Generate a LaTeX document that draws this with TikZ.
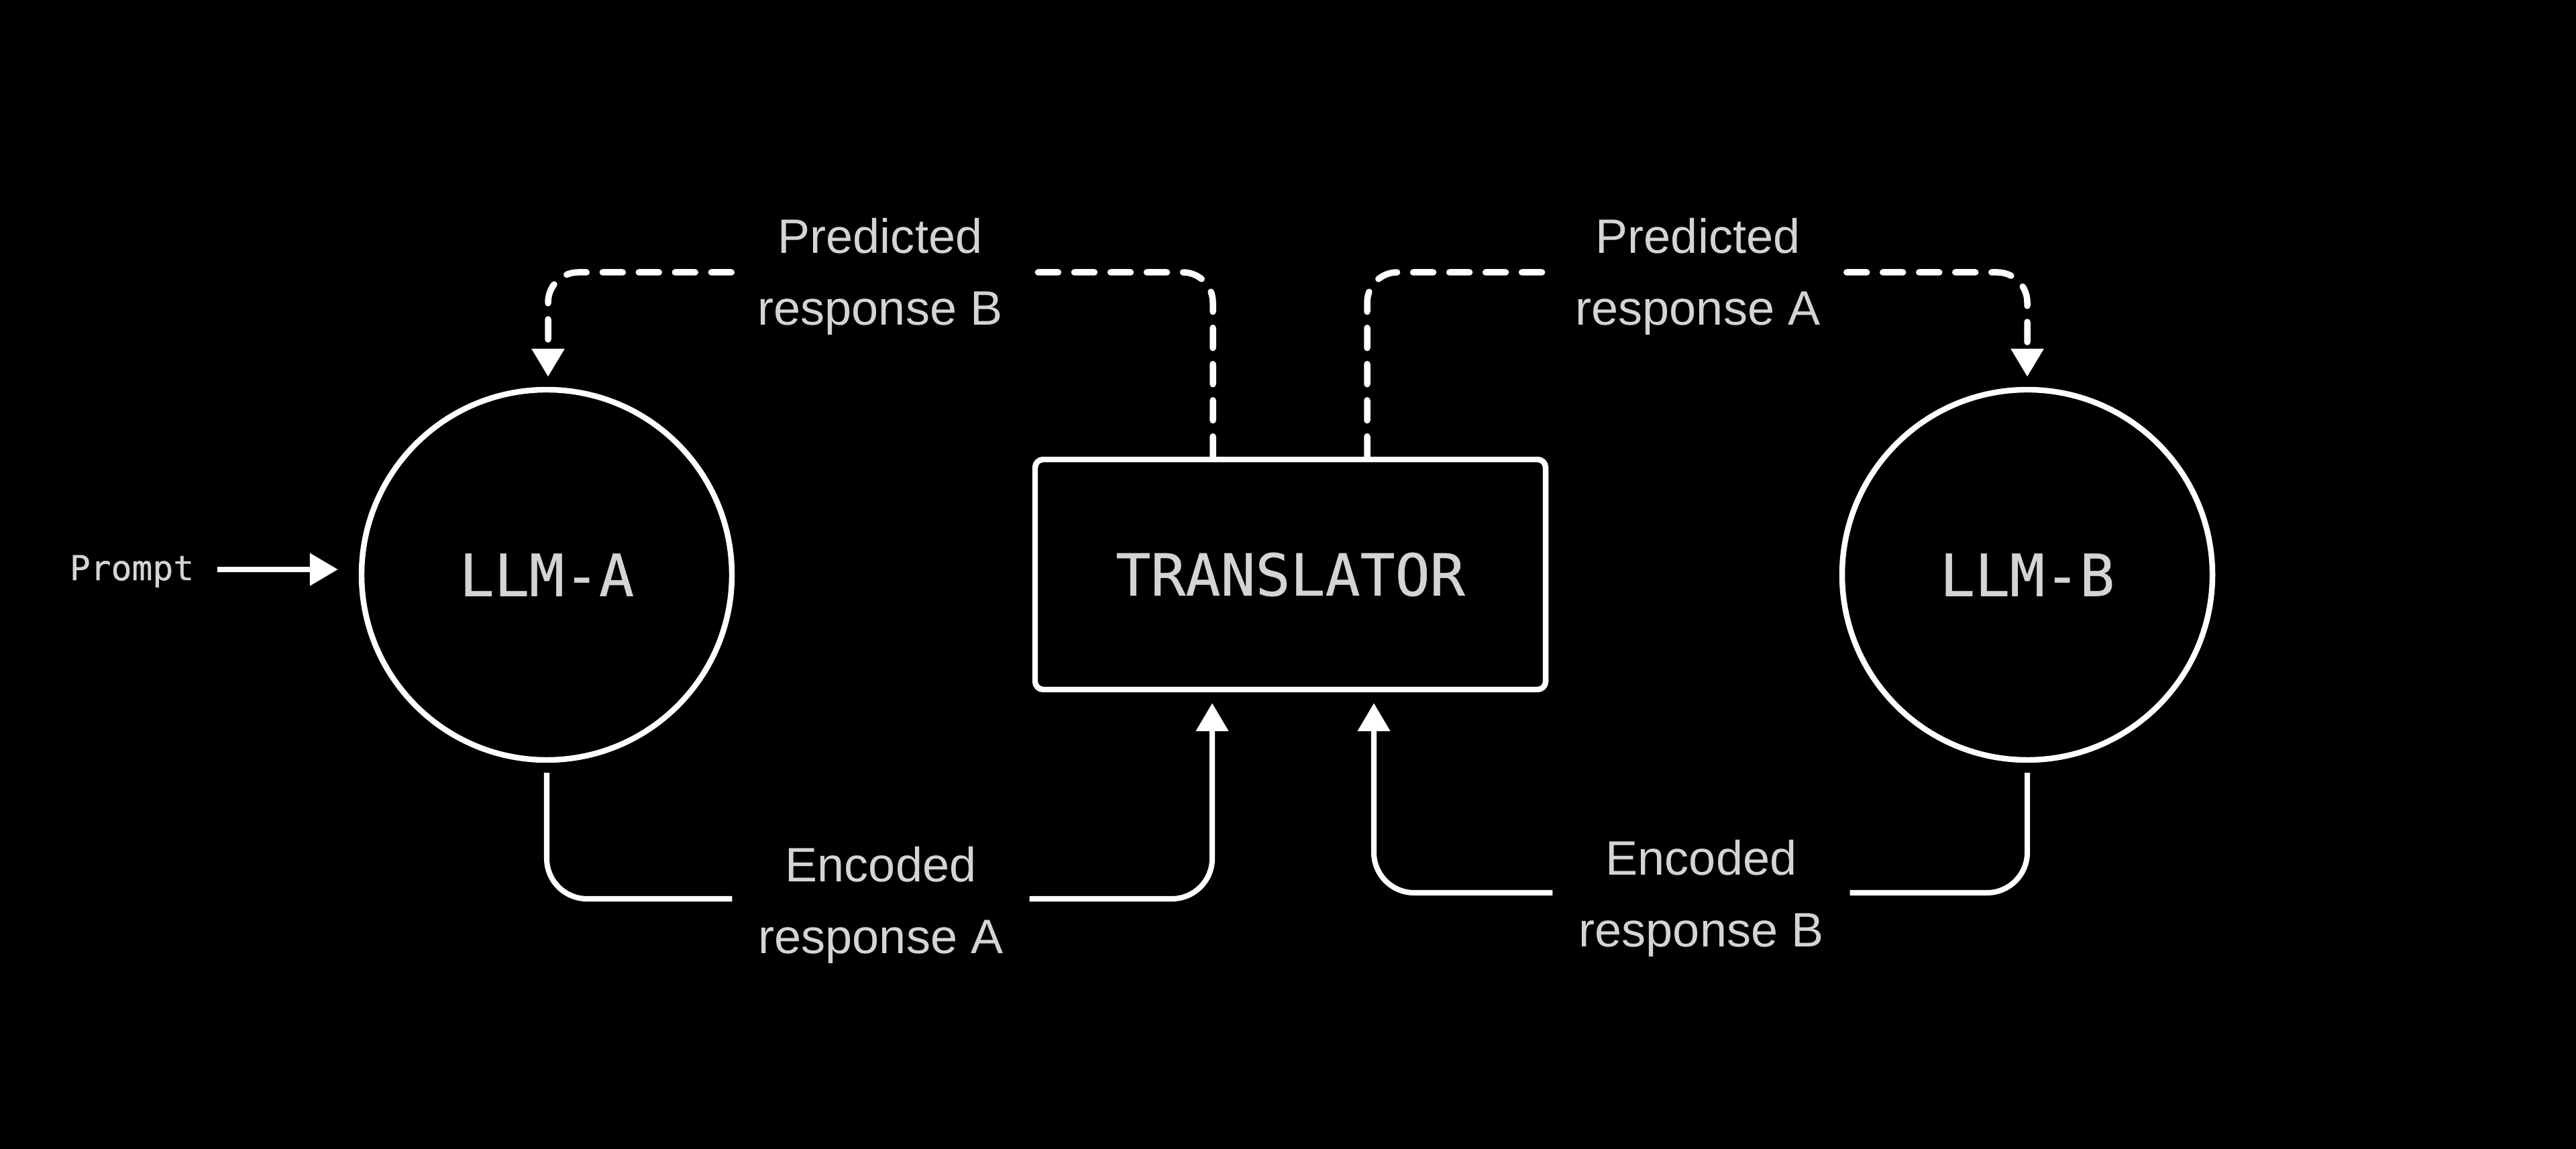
\documentclass[tikz,border=0pt]{standalone}
\usepackage{fontspec}
\setmainfont{Liberation Sans}
\newfontfamily\monofont[FakeBold=0.6]{DejaVu Sans Mono}
\usetikzlibrary{arrows.meta}
\definecolor{txt}{RGB}{212,212,212}
\begin{document}
\begin{tikzpicture}[
  every node/.style={text=txt},
  llm/.style={circle, draw=white, line width=2.4pt, minimum size=5.52cm, inner sep=0pt, font=\monofont\fontsize{24.6}{29}\selectfont},
  trbox/.style={rectangle, draw=white, line width=2.4pt, rounded corners=0.12cm, minimum width=7.61cm, minimum height=3.43cm, font=\monofont\fontsize{24.6}{29}\selectfont},
  lbl/.style={align=center, inner sep=0pt, minimum width=4.42cm, font=\fontsize{20.5}{30.45}\selectfont},
  solidc/.style={draw=white, line width=2.3pt, rounded corners=0.6cm},
  dashc/.style={draw=white, line width=2.7pt, line cap=round, dash pattern=on 0.3cm off 0.24cm, rounded corners=0.45cm},
  tip/.style={-{Triangle[length=0.42cm,width=0.47cm]}}
]
\useasboundingbox (0,0) rectangle (38.4,17.13);
\fill[black] (0,0) rectangle (38.4,17.13);

\node[llm] (llmA) at (8.15,8.56) {LLM-A};
\node[llm] (llmB) at (30.22,8.56) {LLM-B};
\node[trbox] (tr) at (19.235,8.565) {TRANSLATOR};
\node[font=\monofont\fontsize{14.6}{17}\selectfont, anchor=base, inner sep=0pt] (prompt) at (1.965,8.48) {Prompt};

\coordinate (pY) at (0,8.64);
\coordinate (ytop) at (0,13.07);
\coordinate (ybotA) at (0,3.73);
\coordinate (ybotB) at (0,3.82);

\node[lbl] (pB) at (13.12,13.005) {Predicted\\response B};
\node[lbl] (pA) at (25.31,13.005) {Predicted\\response A};
\node[lbl] (eA) at (13.13,3.64) {Encoded\\response A};
\node[lbl] (eB) at (25.36,3.74) {Encoded\\response B};

% prompt arrow
\draw[solidc, tip, shorten <=0.34cm, shorten >=0.31cm] (prompt.east |- pY) -- (llmA.west |- pY);

% predicted response B (dashed, translator -> LLM-A)
\draw[dashc] ([xshift=-1.155cm]tr.north) |- (pB.east |- ytop);
\draw[dashc, tip, shorten >=0.15cm] (pB.west |- ytop) -| ([xshift=0.02cm]llmA.north);

% predicted response A (dashed, translator -> LLM-B)
\draw[dashc] ([xshift=1.145cm]tr.north) |- (pA.west |- ytop);
\draw[dashc, tip, shorten >=0.15cm] (pA.east |- ytop) -| (llmB.north);

% encoded response A (LLM-A -> translator)
\draw[solidc, shorten <=0.15cm] (llmA.south) |- (eA.west |- ybotA);
\draw[solidc, tip, shorten >=0.16cm] (eA.east |- ybotA) -| ([xshift=-1.165cm]tr.south);

% encoded response B (LLM-B -> translator)
\draw[solidc, shorten <=0.15cm] (llmB.south) |- (eB.east |- ybotB);
\draw[solidc, tip, shorten >=0.16cm] (eB.west |- ybotB) -| ([xshift=1.245cm]tr.south);
\end{tikzpicture}
\end{document}
